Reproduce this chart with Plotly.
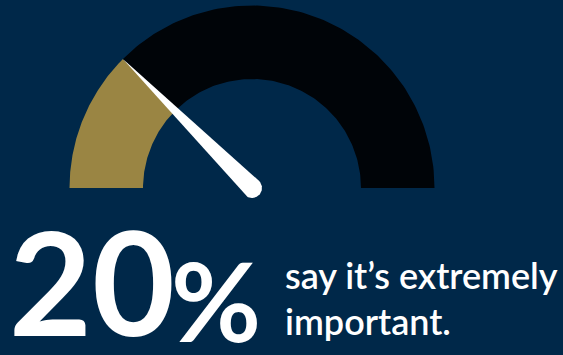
import numpy as np
import plotly.graph_objects as go

# ---- data ----
gauge_value = 20          # percentage shown
gauge_max = 80            # full scale of the gauge
big_number = "20"
big_suffix = "%"
caption_lines = ["say it’s extremely", "important."]

# ---- style / layout constants ----
W, H = 563, 355
BG = "#002849"
GOLD = "#9A8543"
DARK = "#000408"
CX, CY = 252, H - 188
R_OUT, R_IN = 182.5, 109
NEEDLE_BASE = 10

def arc_polygon(frac0, frac1, r0, r1, n=120):
    a0 = np.pi * (1 - frac0)
    a1 = np.pi * (1 - frac1)
    t = np.linspace(a0, a1, n)
    xs = np.concatenate([CX + r1 * np.cos(t), CX + r0 * np.cos(t[::-1])])
    ys = np.concatenate([CY + r1 * np.sin(t), CY + r0 * np.sin(t[::-1])])
    return np.append(xs, xs[0]), np.append(ys, ys[0])

frac = gauge_value / gauge_max

fig = go.Figure()
gx, gy = arc_polygon(0, frac, R_IN, R_OUT)
fig.add_trace(go.Scatter(x=gx, y=gy, fill="toself", fillcolor=GOLD, mode="lines",
                         line=dict(width=0, color=GOLD), hoverinfo="skip", showlegend=False))
bx, by = arc_polygon(frac, 1, R_IN, R_OUT)
fig.add_trace(go.Scatter(x=bx, y=by, fill="toself", fillcolor=DARK, mode="lines",
                         line=dict(width=0, color=DARK), hoverinfo="skip", showlegend=False))

# needle: tapered from tip on outer edge to rounded base at the centre
ang = np.pi * (1 - frac)
tipx, tipy = CX + R_OUT * np.cos(ang), CY + R_OUT * np.sin(ang)
beta = np.arccos(NEEDLE_BASE / R_OUT)
t = np.linspace(ang + beta, ang + 2 * np.pi - beta, 60)
circx = CX + NEEDLE_BASE * np.cos(t)
circy = CY + NEEDLE_BASE * np.sin(t)
nx = np.concatenate([[tipx], circx, [tipx]])
ny = np.concatenate([[tipy], circy, [tipy]])
fig.add_trace(go.Scatter(x=nx, y=ny, fill="toself", fillcolor="white", mode="lines",
                         line=dict(width=0, color="white"), hoverinfo="skip", showlegend=False))

fig.add_annotation(x=7, y=0, xref="x", yref="y", xanchor="left", yanchor="bottom",
                   yshift=-13,
                   text="<b>" + big_number + "</b>", showarrow=False,
                   font=dict(family="Lato", size=143, color="white"))
fig.add_annotation(x=169, y=0, xref="x", yref="y", xanchor="left", yanchor="bottom",
                   yshift=-12,
                   text="<b>" + big_suffix + "</b>", showarrow=False,
                   font=dict(family="Lato", size=110, color="white"))
for i, line in enumerate(caption_lines):
    fig.add_annotation(x=283, y=H - 291 - 46 * i, xref="x", yref="y", xanchor="left",
                       yanchor="bottom", yshift=-8,
                       text=line, showarrow=False,
                       font=dict(family="Lato", size=36, color="white", weight=600))

fig.update_layout(
    width=W, height=H, margin=dict(l=0, r=0, t=0, b=0),
    paper_bgcolor=BG, plot_bgcolor=BG,
    xaxis=dict(range=[0, W], visible=False, fixedrange=True),
    yaxis=dict(range=[0, H], visible=False, fixedrange=True),
    showlegend=False,
)
fig.write_html("out.html")
